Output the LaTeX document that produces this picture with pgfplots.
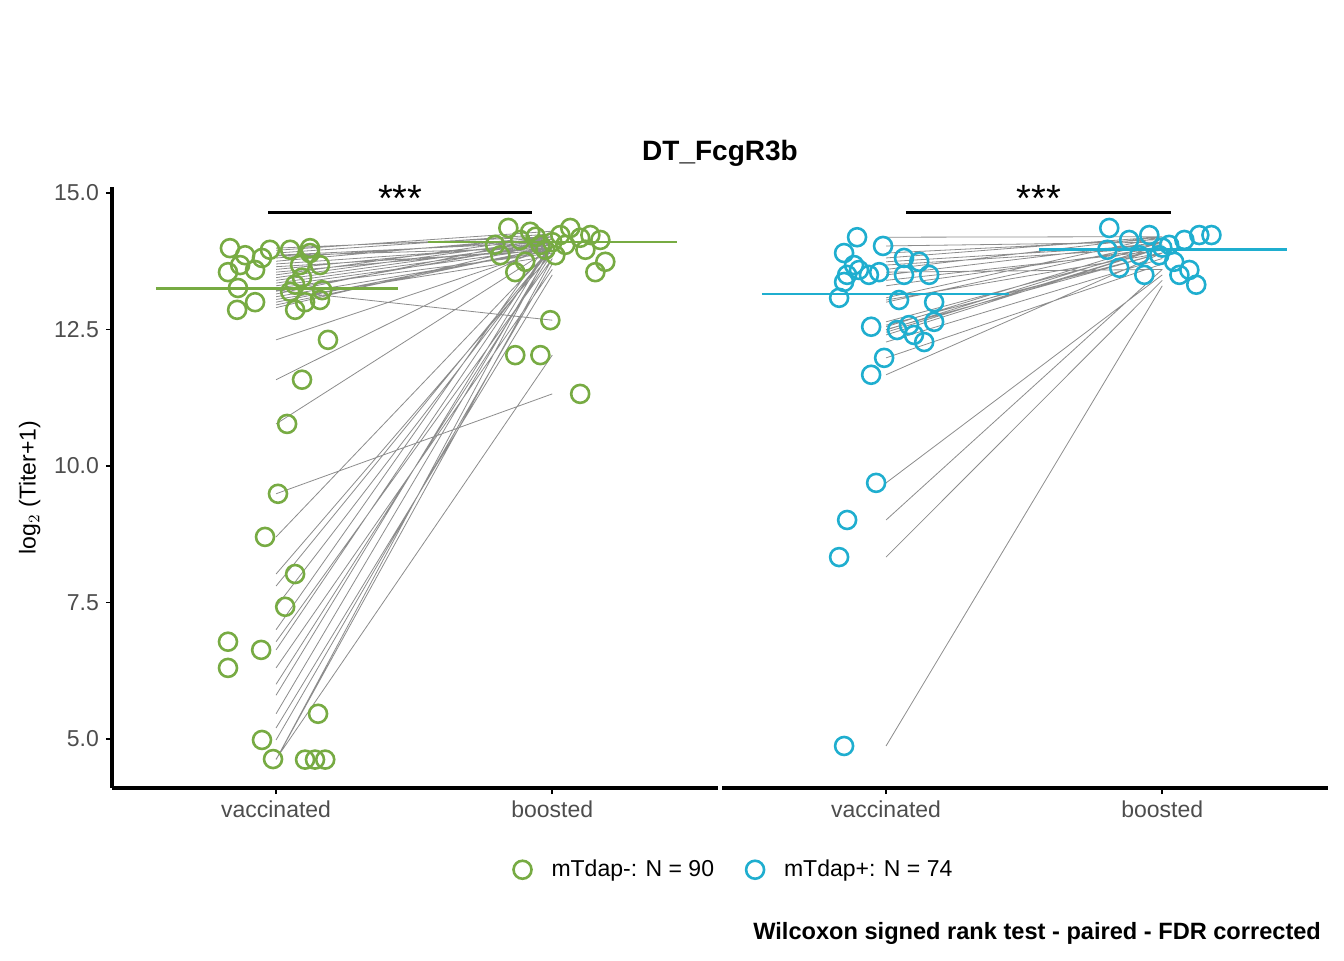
\documentclass[border=0pt]{standalone}
\usepackage{pgfplots}
\pgfplotsset{compat=1.18}
\usepackage{pgfplotstable}
\usepackage{fontspec}
\setmainfont{Liberation Sans}
\definecolor{cg}{HTML}{77AB43}
\definecolor{cb}{HTML}{1FAECF}
\definecolor{tk}{HTML}{4D4D4D}
\pgfplotstableread{
x y
0.833 13.99
0.826 13.55
0.870 13.68
0.888 13.86
0.949 13.81
0.978 13.96
0.924 13.59
0.862 13.26
0.924 13.00
0.859 12.86
1.051 13.96
1.123 13.99
1.087 13.68
1.159 13.68
1.069 13.32
1.051 13.19
1.167 13.22
1.105 13.00
1.069 12.86
1.159 13.04
1.188 12.31
1.094 11.58
1.040 10.77
1.007 9.49
0.960 8.70
1.069 8.02
1.033 7.42
0.826 6.78
0.826 6.30
0.946 6.63
0.949 4.98
0.989 4.63
1.105 4.62
1.141 4.62
1.178 4.62
1.152 5.46
1.123 13.90
1.094 13.45
}\lv
\pgfplotstableread{
x y
1.841 14.36
1.920 14.29
1.812 13.86
1.884 14.14
1.957 14.05
2.029 14.23
2.065 14.36
2.138 14.23
2.174 14.14
1.975 13.96
1.866 13.55
2.011 13.86
2.120 13.96
2.192 13.74
2.156 13.55
2.101 14.18
1.993 12.67
1.866 12.03
1.957 12.03
2.101 11.32
1.793 14.05
1.902 13.74
2.047 14.05
1.940 14.20
2.000 14.10
}\lb
\pgfplotstableread{
x y
1 13.99
2 14.2
nan nan
1 13.9
2 14.25
nan nan
1 13.86
2 14.1
nan nan
1 13.81
2 14.15
nan nan
1 13.7
2 14.05
nan nan
1 13.6
2 14.1
nan nan
1 13.55
2 14.0
nan nan
1 13.5
2 14.2
nan nan
1 13.4
2 14.1
nan nan
1 13.3
2 14.0
nan nan
1 13.26
2 13.9
nan nan
1 13.2
2 14.1
nan nan
1 13.1
2 13.95
nan nan
1 13.0
2 14.0
nan nan
1 12.9
2 14.1
nan nan
1 13.22
2 12.67
nan nan
1 12.31
2 14.0
nan nan
1 11.58
2 14.1
nan nan
1 10.77
2 14.0
nan nan
1 9.49
2 11.32
nan nan
1 8.70
2 14.0
nan nan
1 8.02
2 13.9
nan nan
1 7.42
2 14.0
nan nan
1 6.78
2 13.8
nan nan
1 6.63
2 14.1
nan nan
1 6.30
2 13.6
nan nan
1 5.46
2 14.0
nan nan
1 4.98
2 13.7
nan nan
1 4.63
2 12.03
nan nan
1 4.62
2 14.05
nan nan
1 4.62
2 13.8
nan nan
1 5.2
2 13.5
nan nan
1 5.8
2 14.1
nan nan
1 6.0
2 13.9
nan nan
1 7.0
2 14.2
nan nan
1 7.8
2 14.0
nan nan
1 13.95
2 14.3
nan nan
1 13.85
2 14.0
nan nan
1 13.75
2 14.2
nan nan
1 13.65
2 13.95
nan nan
1 13.45
2 14.15
nan nan
1 13.35
2 14.05
nan nan
1 13.15
2 14.2
nan nan
1 13.05
2 13.85
nan nan
1 12.95
2 14.0
}\ll
\pgfplotstableread{
x y
0.895 14.19
0.848 13.90
0.989 14.03
0.830 13.08
0.859 13.50
0.884 13.68
0.938 13.50
0.975 13.55
0.946 12.55
0.993 11.98
0.946 11.67
1.065 13.81
1.120 13.74
1.065 13.50
1.156 13.50
1.047 13.04
1.174 13.00
1.083 12.58
1.040 12.49
1.101 12.40
1.138 12.27
1.174 12.64
0.964 9.69
0.859 9.01
0.830 8.33
0.848 4.87
0.848 13.37
0.902 13.59
}\rv
\pgfplotstableread{
x y
1.808 14.36
1.880 14.14
1.953 14.23
2.025 14.05
2.080 14.14
2.134 14.23
2.178 14.23
1.801 13.96
1.844 13.63
1.935 13.50
1.989 13.86
2.043 13.74
2.098 13.59
2.123 13.32
2.062 13.50
1.917 13.86
2.000 14.00
}\rb
\pgfplotstableread{
x y
1 14.19
2 14.2
nan nan
1 14.03
2 14.1
nan nan
1 13.9
2 14.15
nan nan
1 13.81
2 14.2
nan nan
1 13.74
2 14.05
nan nan
1 13.68
2 14.0
nan nan
1 13.5
2 14.1
nan nan
1 13.4
2 13.95
nan nan
1 13.3
2 14.0
nan nan
1 13.08
2 14.2
nan nan
1 13.04
2 13.9
nan nan
1 13.0
2 14.1
nan nan
1 12.64
2 14.0
nan nan
1 12.58
2 13.9
nan nan
1 12.49
2 14.05
nan nan
1 12.40
2 14.0
nan nan
1 12.27
2 13.8
nan nan
1 12.55
2 14.1
nan nan
1 11.98
2 13.7
nan nan
1 11.67
2 13.9
nan nan
1 9.69
2 13.5
nan nan
1 9.01
2 13.6
nan nan
1 8.33
2 13.4
nan nan
1 4.87
2 13.3
nan nan
1 13.55
2 13.6
nan nan
1 13.6
2 14.2
nan nan
1 12.5
2 13.9
nan nan
1 12.45
2 14.0
}\rl
\begin{document}
\begin{tikzpicture}
\path (0,0) rectangle (672pt,480pt);
\pgfplotsset{
  pan/.style={scale only axis, width=303pt, height=300.5pt,
    xmin=0.406, xmax=2.60, ymin=4.10, ymax=15.11,
    xtick={1,2}, xticklabels={vaccinated,boosted},
    axis x line*=bottom, x axis line style={line width=1.6pt,-},
    tick style={line width=0.8pt, black}, tick align=outside, major tick length=3pt,
    ticklabel style={font=\fontsize{11.5}{12}\selectfont, text=tk},
    /pgf/number format/assume math mode=true,
    clip=false, unbounded coords=jump},
  pts/.style={only marks, mark=o, mark size=4.5pt, mark options={line width=1.3pt}},
  seg/.style={no marks, black, opacity=0.45, line width=0.4pt}
}
\begin{axis}[pan, at={(56pt,86pt)}, anchor=south west,
  axis y line*=left, y axis line style={line width=1.6pt,-},
  ytick={5,7.5,10,12.5,15}, yticklabels={5.0,7.5,10.0,12.5,15.0},
  ylabel={log$_2$ (Titer+1)}, ylabel style={font=\fontsize{11.5}{12}\selectfont},
  legend style={at={(1.028,-0.136)}, anchor=center, draw=none, legend columns=2,
    font=\fontsize{11.5}{12}\selectfont,
    /tikz/every odd column/.append style={column sep=8pt},
    /tikz/every even column/.append style={column sep=14pt}},
  legend cell align=left]
\addplot[pts, cg] table {\lv};
\addlegendentry{mTdap-: N = 90}
\addlegendimage{only marks, mark=o, mark size=4.5pt, mark options={line width=1.3pt}, cb}
\addlegendentry{mTdap+: N = 74}
\addplot[pts, cg, forget plot] table {\lb};
\addplot[seg, forget plot] table {\ll};
\addplot[cg, line width=1.3pt, forget plot] coordinates {(0.565,13.25)(1.44,13.25)};
\addplot[cg, line width=1.3pt, forget plot] coordinates {(1.55,14.1)(2.45,14.1)};
\addplot[black, line width=1.6pt, forget plot] coordinates {(0.971,14.65)(1.928,14.65)} node[pos=0.5, above=-4pt, font=\fontsize{19}{19}\selectfont]{***};
\end{axis}
\begin{axis}[pan, at={(361pt,86pt)}, anchor=south west,
  axis y line=none]
\addplot[pts, cb] table {\rv};
\addplot[pts, cb] table {\rb};
\addplot[seg] table {\rl};
\addplot[cb, line width=1.3pt] coordinates {(0.55,13.15)(1.445,13.15)};
\addplot[cb, line width=1.3pt] coordinates {(1.555,13.97)(2.45,13.97)};
\addplot[black, line width=1.6pt] coordinates {(1.072,14.65)(2.033,14.65)} node[pos=0.5, above=-4pt, font=\fontsize{19}{19}\selectfont]{***};
\end{axis}
\node[font=\bfseries\fontsize{14}{15}\selectfont] at (360pt,403.5pt) {DT\_FcgR3b};
\node[font=\bfseries\fontsize{11.8}{12}\selectfont, anchor=east] at (664pt,13.5pt) {Wilcoxon signed rank test - paired - FDR corrected};
\end{tikzpicture}
\end{document}
